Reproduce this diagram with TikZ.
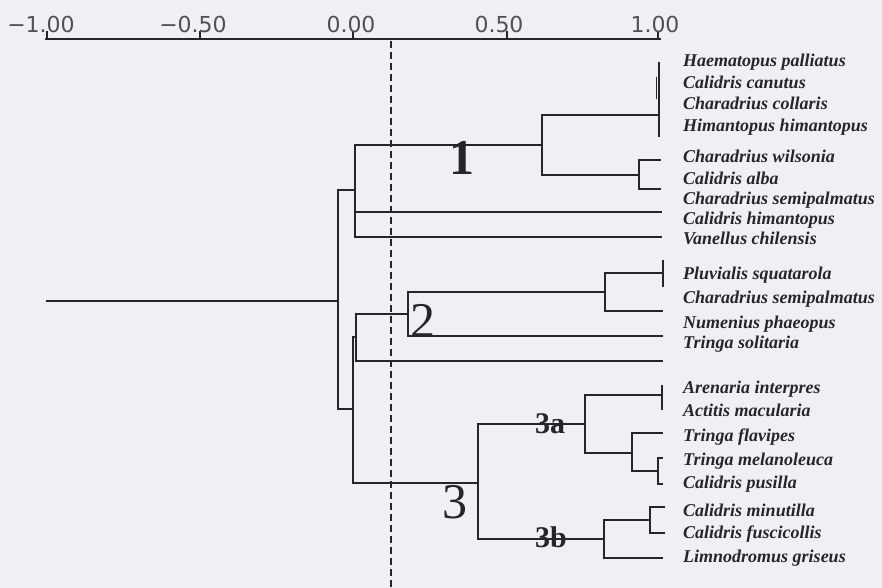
\documentclass[tikz,border=0pt]{standalone}
\usepackage{fontspec}
\setmainfont{Liberation Serif}
\newfontfamily\axisfont{DejaVu Sans}
\definecolor{bg}{RGB}{240,240,244}
\definecolor{ink}{RGB}{38,38,40}
\begin{document}
\begin{tikzpicture}[x=1pt,y=-1pt,
  br/.style={draw=ink, line width=1.2pt},
  axline/.style={draw=ink, line width=1.3pt},
  cut/.style={draw=ink, line width=1.6pt, dash pattern=on 7pt off 4pt},
  sp/.style={anchor=base west, inner sep=0pt, text=ink, font=\fontsize{18}{20}\selectfont\bfseries\itshape},
  ax/.style={anchor=base, inner sep=0pt, text=ink!80, font=\axisfont\fontsize{22}{24}\selectfont},
  big/.style={inner sep=0pt, text=ink, font=\fontsize{50}{50}\selectfont},
  sub/.style={inner sep=0pt, text=ink, font=\fontsize{30}{30}\selectfont\bfseries}]
\useasboundingbox[fill=bg] (0,0) rectangle (882,588);

% axis
\coordinate (ax0) at (45,39);
\coordinate (ax1) at (661,39);
\draw[axline] (ax0) -- (ax1);
\foreach \n/\x in {a/47,b/200,c/353,d/507,e/658}{
  \coordinate (tk\n) at (\x,39);
  \draw[axline] (tk\n) -- ++(0,-8);
}
\node[ax] (l1) at (41,33) {−1.00};
\node[ax] (l2) at (193,33) {−0.50};
\node[ax] (l3) at (351,33) {0.00};
\node[ax] (l4) at (499,33) {0.50};
\node[ax] (l5) at (655,33) {1.00};

% dashed cut line
\coordinate (d0) at (391,41);
\coordinate (d1) at (391,588);
\draw[cut] (d0) -- (d1);

% tree coordinates
\coordinate (root) at (46,301);
\coordinate (r) at (338,301);
\coordinate (gA) at (355,190);
\coordinate (gB) at (353,409);
\coordinate (c1) at (542,145);
\coordinate (T) at (659,115);
\coordinate (T1) at (659,62);
\coordinate (T2) at (659,137);
\coordinate (Tk1) at (656,77);
\coordinate (Tk2) at (656,99);
\coordinate (W) at (639,175);
\coordinate (w1) at (661,160);
\coordinate (w2) at (661,189);
\coordinate (e7) at (662,212);
\coordinate (e9) at (662,237);
\coordinate (c2) at (356,337);
\coordinate (n2) at (408,314);
\coordinate (e13) at (663,361);
\coordinate (P) at (605,292);
\coordinate (e12) at (663,336);
\coordinate (p1) at (663,273);
\coordinate (p2) at (663,311);
\coordinate (p1a) at (663,260);
\coordinate (p1b) at (663,287);
\coordinate (c3) at (478,483);
\coordinate (n3a) at (585,424);
\coordinate (n3b) at (604,539);
\coordinate (a1) at (662,395);
\coordinate (a1a) at (662,385);
\coordinate (a1b) at (662,410);
\coordinate (ts) at (632,453);
\coordinate (e16) at (663,433);
\coordinate (mp) at (658,471);
\coordinate (e17) at (663,458);
\coordinate (e18) at (663,484);
\coordinate (mf) at (650,520);
\coordinate (e19) at (665,507);
\coordinate (e20) at (665,533);
\coordinate (e21) at (663,558);

% tree
\draw[br] (root) -- (r);
\draw[br] (r) |- (gA);
\draw[br] (r) |- (gB);
\draw[br] (gA) |- (c1);
\draw[br] (gA) |- (e7);
\draw[br] (gA) |- (e9);
\draw[br] (c1) |- (T);
\draw[br] (c1) |- (W);
\draw[br] (T1) -- (T2);
\draw[br, line width=0.8pt] (Tk1) -- (Tk2);
\draw[br] (W) |- (w1);
\draw[br] (W) |- (w2);
\draw[br] (gB) |- (c2);
\draw[br] (gB) |- (c3);
\draw[br] (c2) |- (n2);
\draw[br] (c2) |- (e13);
\draw[br] (n2) |- (P);
\draw[br] (n2) |- (e12);
\draw[br] (P) |- (p1);
\draw[br] (P) |- (p2);
\draw[br] (p1a) -- (p1b);
\draw[br] (c3) |- (n3a);
\draw[br] (c3) |- (n3b);
\draw[br] (n3a) |- (a1);
\draw[br] (a1a) -- (a1b);
\draw[br] (n3a) |- (ts);
\draw[br] (ts) |- (e16);
\draw[br] (ts) |- (mp);
\draw[br] (mp) |- (e17);
\draw[br] (mp) |- (e18);
\draw[br] (n3b) |- (mf);
\draw[br] (n3b) |- (e21);
\draw[br] (mf) |- (e19);
\draw[br] (mf) |- (e20);

% cluster labels
\node[big, font=\fontsize{50}{50}\selectfont\bfseries] (k1) at (462,158) {1};
\node[big] (k2) at (423,321) {2};
\node[big] (k3) at (455,502) {3};
\node[sub] (k3a) at (550,424) {3a};
\node[sub] (k3b) at (551,537) {3b};

% species
\node[sp] (s1) at (683,67) {Haematopus palliatus};
\node[sp] (s2) at (683,89) {Calidris canutus};
\node[sp] (s3) at (683,110) {Charadrius collaris};
\node[sp] (s4) at (683,132) {Himantopus himantopus};
\node[sp] (s5) at (683,163) {Charadrius wilsonia};
\node[sp] (s6) at (683,184) {Calidris alba};
\node[sp] (s7) at (683,204) {Charadrius semipalmatus};
\node[sp] (s8) at (683,224) {Calidris himantopus};
\node[sp] (s9) at (683,244) {Vanellus chilensis};
\node[sp] (s10) at (683,279) {Pluvialis squatarola};
\node[sp] (s11) at (683,303) {Charadrius semipalmatus};
\node[sp] (s12) at (683,328) {Numenius phaeopus};
\node[sp] (s13) at (683,348) {Tringa solitaria};
\node[sp] (s14) at (683,393) {Arenaria interpres};
\node[sp] (s15) at (683,416) {Actitis macularia};
\node[sp] (s16) at (683,441) {Tringa flavipes};
\node[sp] (s17) at (683,465) {Tringa melanoleuca};
\node[sp] (s18) at (683,488) {Calidris pusilla};
\node[sp] (s19) at (683,516) {Calidris minutilla};
\node[sp] (s20) at (683,538) {Calidris fuscicollis};
\node[sp] (s21) at (683,562) {Limnodromus griseus};
\end{tikzpicture}
\end{document}
